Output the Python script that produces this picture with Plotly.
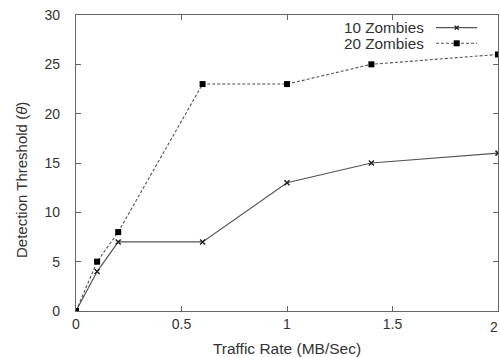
import plotly.graph_objects as go

traffic_rate = [0, 0.1, 0.2, 0.6, 1.0, 1.4, 2.0]
zombies_10 = [0, 4, 7, 7, 13, 15, 16]
zombies_20 = [0, 5, 8, 23, 23, 25, 26]
series_names = ["10 Zombies", "20 Zombies"]
x_ticks = [0, 0.5, 1, 1.5, 2]
x_tick_labels = ["0", "0.5", "1", "1.5", "2"]
y_ticks = [0, 5, 10, 15, 20, 25, 30]

FONT = "Liberation Sans, Arial, Helvetica, sans-serif"
LINE = "#555555"
TEXT = "#333333"
W_PLOT, H_PLOT = 422, 296

fig = go.Figure()
fig.add_trace(go.Scatter(
    x=traffic_rate, y=zombies_10, mode="lines+markers", name=series_names[0],
    line=dict(color=LINE, width=1.2),
    marker=dict(symbol="x-thin-open", size=5, color="#222", line=dict(width=1.5, color="#222")),
))
fig.add_trace(go.Scatter(
    x=traffic_rate, y=zombies_20, mode="lines+markers", name=series_names[1],
    line=dict(color=LINE, width=1.1, dash="3px,2px"),
    marker=dict(symbol="square", size=6, color="#000"),
))

# legend drawn gnuplot-style (text right-aligned, sample on the right)
leg_rows = [((311 - 27.7) / H_PLOT, series_names[0], "x"),
            ((311 - 43.3) / H_PLOT, series_names[1], "sq")]
x0p, x1p = (436 - 76) / W_PLOT, (477 - 76) / W_PLOT
xm = (456.7 - 76) / W_PLOT
for yp, name, mk in leg_rows:
    fig.add_annotation(xref="paper", yref="paper", x=(426 - 76) / W_PLOT, y=yp,
                       text=name, showarrow=False, xanchor="right", yanchor="middle",
                       font=dict(family=FONT, size=15.3, color=TEXT))
    fig.add_shape(type="line", xref="paper", yref="paper", x0=x0p, x1=x1p, y0=yp, y1=yp,
                  line=dict(color=LINE, width=1.2 if mk == "x" else 1.1,
                            dash="solid" if mk == "x" else "3px,2px"))
    dx, dy = 3 / W_PLOT, 3 / H_PLOT
    if mk == "sq":
        fig.add_shape(type="rect", xref="paper", yref="paper", x0=xm - dx, x1=xm + dx,
                      y0=yp - dy, y1=yp + dy, fillcolor="#000", line=dict(width=0))
    else:
        ex, ey = 2 / W_PLOT, 2 / H_PLOT
        fig.add_shape(type="line", xref="paper", yref="paper", x0=xm - ex, x1=xm + ex,
                      y0=yp - ey, y1=yp + ey, line=dict(color="#222", width=1.3))
        fig.add_shape(type="line", xref="paper", yref="paper", x0=xm - ex, x1=xm + ex,
                      y0=yp + ey, y1=yp - ey, line=dict(color="#222", width=1.3))

# the last x tick label sits at the figure edge
fig.add_annotation(xref="x", yref="paper", x=x_ticks[-1], y=0, yshift=-6, xshift=-4,
                   text=x_tick_labels[-1], showarrow=False, xanchor="center", yanchor="top",
                   font=dict(family=FONT, size=14, color=TEXT))
# y axis title placed like the reference (offset from the plot centre)
fig.add_annotation(xref="paper", yref="paper", x=(21 - 76) / W_PLOT, y=(311 - 180) / H_PLOT,
                   text="Detection Threshold (<i>θ</i>)", textangle=-90, showarrow=False,
                   xanchor="center", yanchor="middle",
                   font=dict(family=FONT, size=15, color=TEXT))

axis_common = dict(showline=True, linecolor="#666", linewidth=1.2, mirror="ticks",
                   ticks="inside", ticklen=5, tickcolor="#666", tickwidth=1,
                   showgrid=False, zeroline=False, automargin=False,
                   tickfont=dict(family=FONT, size=14, color=TEXT))
fig.update_xaxes(range=[0, 2], tickvals=x_ticks, ticktext=x_tick_labels[:-1] + [""],
                 title=dict(text="Traffic Rate (MB/Sec)", standoff=12,
                            font=dict(family=FONT, size=15.5, color=TEXT)),
                 **axis_common)
fig.update_yaxes(range=[0, 30], tickvals=y_ticks, ticklabelstandoff=12, **axis_common)
fig.update_layout(width=500, height=357, showlegend=False,
                  margin=dict(l=76, r=2, t=15, b=46),
                  plot_bgcolor="white", paper_bgcolor="white")
fig.write_html("out.html", config={"displayModeBar": False},
               post_script="document.body.style.margin='0';document.body.style.overflow='hidden';")
